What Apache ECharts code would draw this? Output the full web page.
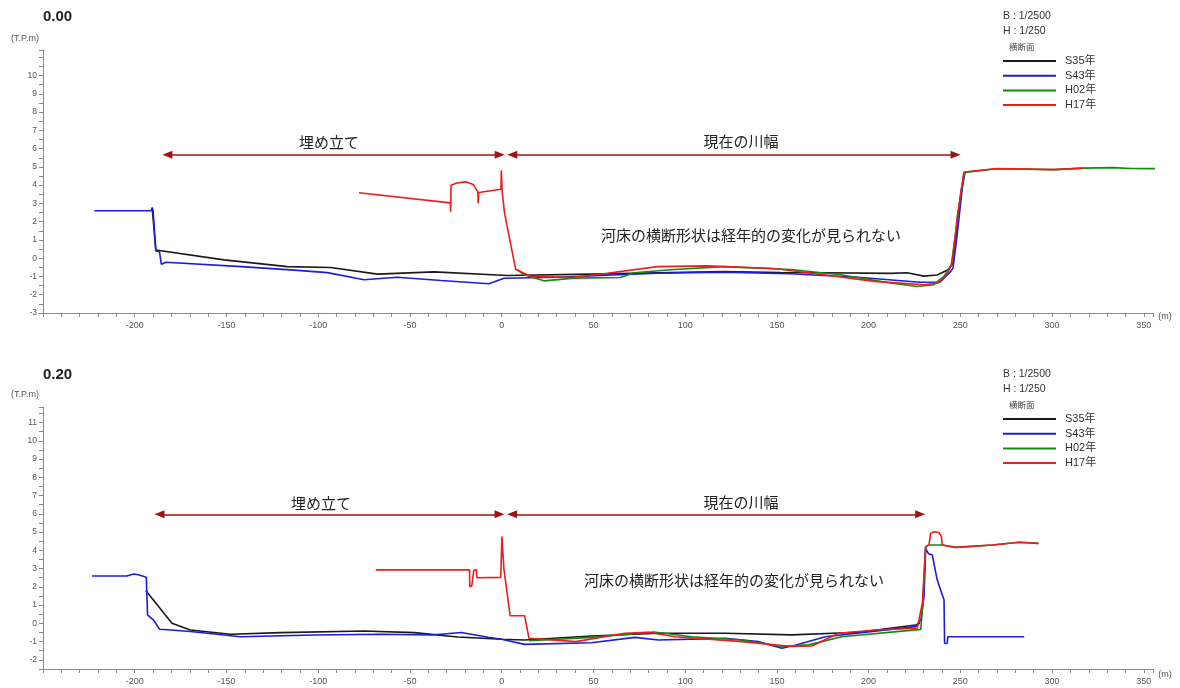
<!DOCTYPE html>
<html><head><meta charset="utf-8">
<script src="https://cdn.jsdelivr.net/npm/echarts@6/dist/echarts.min.js"></script>
<style>html,body{margin:0;padding:0;background:#fff}#c{width:1180px;height:688px}</style>
</head><body><div id="c"></div>
<script>
// ---------- DATA ----------
const seriesNames = ['S35年', 'S43年', 'H02年', 'H17年'];
const sectionTitles = ['0.00', '0.20'];
const scaleNotes = ['B : 1/2500', 'H : 1/250', '横断面'];
const fillLabel = '埋め立て';
const riverLabel = '現在の川幅';
const noteText = '河床の横断形状は経年的の変化が見られない';

// Section 0.00  [distance m, elevation T.P.m]
const sec0_S35 = [[-190.5,2.75],[-188.5,0.45],[-187.6,0.45],[-151.3,-0.09],[-116.8,-0.46],[-93.2,-0.51],[-67.7,-0.87],[-36.9,-0.75],[3,-0.95],[48.5,-0.87],[121,-0.73],[152,-0.78],[175.6,-0.8],[212,-0.83],[221,-0.8],[230,-0.98],[237.4,-0.92],[243,-0.65],[246,-0.3],[249,2.5],[252,4.7]];
const sec0_S43 = [[-222,2.6],[-191,2.6],[-190.5,2.78],[-190,2.6],[-188.5,0.4],[-186.5,0.35],[-185.5,-0.33],[-183,-0.22],[-142,-0.46],[-115,-0.64],[-95,-0.79],[-75,-1.18],[-57,-1.04],[-33,-1.22],[-7,-1.4],[1.3,-1.1],[30,-1.04],[85,-0.82],[121,-0.76],[157,-0.85],[194,-1.04],[228,-1.32],[239,-1.3],[244.5,-0.75],[246,-0.55],[248.5,1.5],[251,3.8],[252.5,4.7]];
const sec0_H02 = [[8,-0.6],[12.2,-0.91],[23,-1.24],[39.4,-1.09],[64.8,-1.06],[72,-0.8],[93.9,-0.62],[121,-0.46],[157.5,-0.62],[184.7,-0.91],[212,-1.36],[226.5,-1.55],[235.6,-1.45],[241,-1.0],[245,-0.4],[248,1.8],[250.5,3.8],[252.5,4.7],[270,4.9],[301,4.85],[317,4.93],[333.5,4.96],[343,4.91],[362,4.9]];
const sec0_H17 = [[-77.8,3.58],[-28.0,3.03],[-27.8,2.54],[-27.6,4.0],[-24.5,4.12],[-19.6,4.18],[-15.5,4.04],[-13.0,3.63],[-12.8,3.0],[-12.5,3.6],[-0.4,3.78],[-0.2,4.82],[0.3,3.6],[1.6,2.45],[7.6,-0.6],[15.8,-1.0],[39.4,-1.04],[57.6,-0.82],[85,-0.46],[112,-0.42],[148.4,-0.56],[175.6,-0.91],[203,-1.27],[230,-1.45],[238,-1.36],[243,-0.82],[245.6,-0.27],[248.3,2.27],[252,4.72],[270,4.91],[301,4.85],[317.3,4.93]];

// Section 0.20
const sec20_S35 = [[-194,1.8],[-179.7,0.0],[-169.7,-0.36],[-147.8,-0.6],[-120.5,-0.51],[-74.9,-0.42],[-47.6,-0.51],[-23.9,-0.75],[-0.1,-0.87],[12.5,-0.91],[48.9,-0.69],[85.4,-0.54],[121.8,-0.54],[158.2,-0.63],[194.6,-0.49],[225.6,-0.09],[228,0.0]];
const sec20_S43 = [[-223.3,2.59],[-204.3,2.59],[-200.7,2.7],[-198,2.66],[-193.7,2.53],[-193,0.46],[-189.5,0.15],[-186.5,-0.32],[-182,-0.35],[-169.7,-0.45],[-142.3,-0.73],[-102.3,-0.64],[-65.8,-0.6],[-38.5,-0.64],[-22,-0.5],[-7.4,-0.76],[0,-0.87],[12.5,-1.15],[48.9,-1.06],[72.6,-0.77],[85.4,-0.91],[121.8,-0.82],[139.9,-1.0],[152.7,-1.36],[160,-1.2],[176.4,-0.73],[225.6,-0.18],[228.5,0.2],[230.2,1.46],[231.1,4.1],[232.5,3.83],[234.7,3.74],[237.4,2.37],[241.1,1.28],[241.4,-1.09],[242.8,-1.1],[243.2,-0.73],[284.8,-0.73]];
const sec20_H02 = [[15,-0.95],[48.9,-0.77],[83,-0.47],[103.6,-0.73],[130.9,-0.91],[152.7,-1.27],[167.2,-1.18],[185.4,-0.73],[228.4,-0.33],[229.5,1.0],[231,4.15],[232.5,4.29],[240.1,4.29],[247.4,4.16],[267.5,4.29],[282.1,4.44],[292.6,4.38]];
const sec20_H17 = [[-68.6,2.93],[-17.5,2.93],[-17.4,2.0],[-16.3,2.05],[-15.2,2.9],[-13.8,2.95],[-13.5,2.5],[-0.5,2.52],[0.1,4.75],[1.2,3.0],[4.6,0.42],[12.5,0.42],[14.9,-0.82],[40.4,-1.0],[67,-0.54],[79.8,-0.49],[94.4,-0.73],[130.9,-1.0],[158.2,-1.27],[169.1,-1.24],[183.7,-0.54],[203.7,-0.36],[226.5,-0.27],[227.5,-0.27],[229.3,1.1],[231.1,4.2],[232.9,4.3],[233.8,4.93],[235.6,5.02],[238.3,4.98],[239.7,4.75],[240.1,4.29],[247.4,4.16],[267.5,4.29],[282.1,4.44],[292.6,4.38]];

// Arrow spans [from, to] and level (T.P.m)
const sec0_fillSpan = [-182.2, -1.1];
const sec0_riverSpan = [5.8, 247.4];
const sec0_arrowLevel = 5.67;
const sec20_fillSpan = [-186.5, -1.2];
const sec20_riverSpan = [5.7, 228.1];
const sec20_arrowLevel = 5.97;

// Axis ranges
const xRange = [-250, 355];
const sec0_yRange = [-3, 11.4];
const sec20_yRange = [-2.5, 11.85];

// ---------- CHART ----------
const FONT = "'Liberation Sans','Noto Sans CJK JP',sans-serif";
const JFONT = "'Noto Sans CJK JP','Liberation Sans',sans-serif";
const colors = ['#1a1a1a', '#1c1ce0', '#118a11', '#ee1c1c'];
const arrowColor = '#9e1414';

const panels = [
  {data:[sec0_S35,sec0_S43,sec0_H02,sec0_H17], fill:sec0_fillSpan, river:sec0_riverSpan, lvl:sec0_arrowLevel, yr:sec0_yRange, top:50, h:263, ymaxLabel:10, off:0},
  {data:[sec20_S35,sec20_S43,sec20_H02,sec20_H17], fill:sec20_fillSpan, river:sec20_riverSpan, lvl:sec20_arrowLevel, yr:sec20_yRange, top:407, h:262, ymaxLabel:11, off:358}
];

const grid = [], xAxis = [], yAxis = [], series = [], legend = [], graphic = [];
panels.forEach((p, i) => {
  grid.push({left:43, width:1110, top:p.top, height:p.h});
  xAxis.push({
    type:'value', gridIndex:i, min:xRange[0], max:xRange[1], interval:10,
    axisLine:{onZero:false, lineStyle:{color:'#8c8c8c', width:1}},
    axisTick:{show:true, length:4, lineStyle:{color:'#8c8c8c'}},
    splitLine:{show:false},
    axisLabel:{interval:0, fontSize:9, color:'#555', fontFamily:FONT, margin:8,
      formatter:v => (v % 50 === 0 && v > xRange[0] && v < xRange[1]) ? String(v) : ''}
  });
  yAxis.push({
    type:'value', gridIndex:i, min:p.yr[0], max:p.yr[1], interval:0.5,
    axisLine:{show:true, onZero:false, lineStyle:{color:'#8c8c8c', width:1}},
    axisTick:{show:true, length:4, lineStyle:{color:'#8c8c8c'}},
    splitLine:{show:false},
    axisLabel:{interval:0, fontSize:8.5, color:'#555', fontFamily:FONT, margin:6,
      formatter:v => (Number.isInteger(v) && v <= p.ymaxLabel) ? String(v) : ''}
  });
  p.data.forEach((d, k) => {
    series.push({
      type:'line', name:seriesNames[k], xAxisIndex:i, yAxisIndex:i, data:d,
      showSymbol:false, symbol:'none', clip:false, silent:true, z:2+k,
      lineStyle:{color:colors[k], width:1.6}, itemStyle:{color:colors[k]}
    });
  });
  series.push({
    type:'line', name:'arrows'+i, xAxisIndex:i, yAxisIndex:i, data:[], silent:true,
    markLine:{
      silent:true, symbol:['triangle','triangle'], symbolSize:[8,10], animation:false,
      label:{show:false}, lineStyle:{color:arrowColor, width:1.5, type:'solid'},
      emphasis:{disabled:true},
      data:[
        [{coord:[p.fill[0], p.lvl]}, {coord:[p.fill[1], p.lvl]}],
        [{coord:[p.river[0], p.lvl]}, {coord:[p.river[1], p.lvl]}]
      ]
    }
  });
  legend.push({
    data:seriesNames, orient:'vertical', left:1003, top:55 + p.off, padding:0,
    icon:'rect', itemWidth:53, itemHeight:2, itemGap:2.7, selectedMode:false,
    textStyle:{fontSize:11, color:'#333', fontFamily:FONT, lineHeight:12, padding:[0,0,0,4]}
  });
  const o = p.off;
  graphic.push(
    {type:'text', left:43, top:9 + o, style:{text:sectionTitles[i], fontSize:15, fontWeight:'bold', fill:'#222', fontFamily:FONT}},
    {type:'text', x:25, y:39 + o - (i ? 2 : 0), style:{text:'(T.P.m)', fontSize:9, fill:'#555', fontFamily:FONT, align:'center', verticalAlign:'middle'}},
    {type:'text', x:1165, y:318 + o - 1, style:{text:'(m)', fontSize:9, fill:'#555', fontFamily:FONT, align:'center', verticalAlign:'middle'}},
    {type:'text', x:1003, y:16.5 + o, style:{text:scaleNotes[0], fontSize:10.5, fill:'#333', fontFamily:FONT, verticalAlign:'middle'}},
    {type:'text', x:1003, y:31.5 + o, style:{text:scaleNotes[1], fontSize:10.5, fill:'#333', fontFamily:FONT, verticalAlign:'middle'}},
    {type:'text', x:1009, y:46.5 + o, style:{text:scaleNotes[2], fontSize:8.5, fill:'#444', fontFamily:JFONT, verticalAlign:'middle'}},
    {type:'text', x: i ? 321 : 329, y: i ? 503 : 142, style:{text:fillLabel, fontSize:15, fill:'#222', fontFamily:JFONT, align:'center', verticalAlign:'middle'}},
    {type:'text', x:741, y: i ? 502 : 141, style:{text:riverLabel, fontSize:15, fill:'#222', fontFamily:JFONT, align:'center', verticalAlign:'middle'}},
    {type:'text', x: i ? 734 : 751, y: i ? 580 : 235, style:{text:noteText, fontSize:15, fill:'#222', fontFamily:JFONT, align:'center', verticalAlign:'middle'}}
  );
});

const chart = echarts.init(document.getElementById('c'), null, {renderer:'canvas'});
chart.setOption({
  backgroundColor:'#fff', animation:false,
  grid, xAxis, yAxis, series, legend, graphic
});
</script></body></html>
